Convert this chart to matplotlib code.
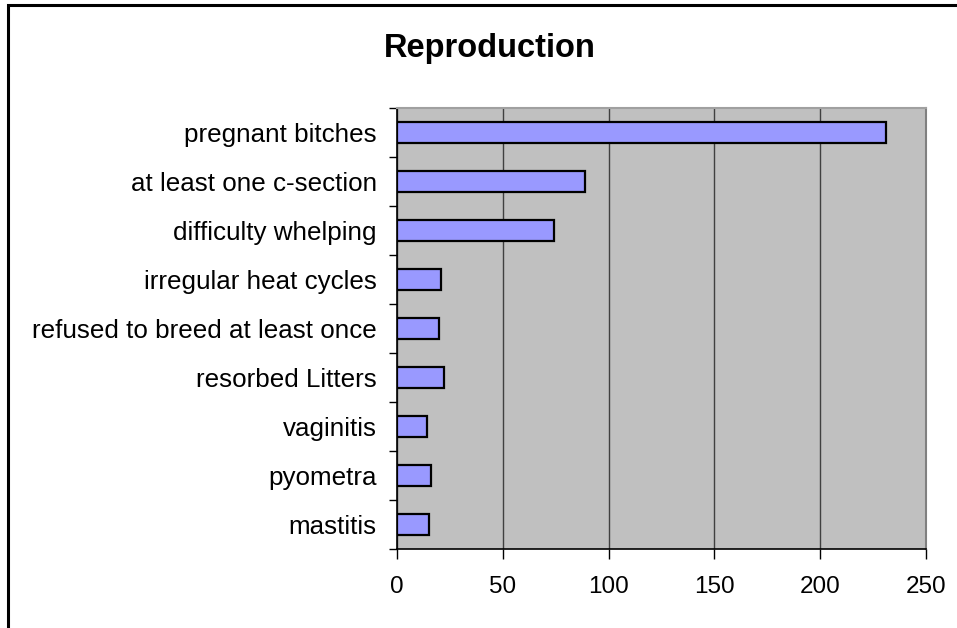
import matplotlib.pyplot as plt
from matplotlib.patches import Rectangle

plt.rcParams['font.family'] = ['Liberation Sans', 'DejaVu Sans']

kategorie = ["pregnant bitches", "at least one c-section", "difficulty whelping",
             "irregular heat cycles", "refused to breed at least once",
             "resorbed Litters", "vaginitis", "pyometra", "mastitis"]
wartosci = [231, 89, 74, 21, 20, 22, 14, 16, 15]
osie_x = [0, 50, 100, 150, 200, 250]

fig = plt.figure(figsize=(9.57, 6.28), dpi=100)
ax = fig.add_axes([397 / 957, 1 - 549 / 628, 529 / 957, 441 / 628])

# ramka wokol calego wykresu (wychodzi poza obraz z prawej i na dole)
fig.patches.append(Rectangle((8 / 957, -0.05), 1.1, 1 - 5 / 628 + 0.05,
                             transform=fig.transFigure, fill=False,
                             edgecolor='black', linewidth=2.2, clip_on=False))

ax.set_facecolor('#C0C0C0')
pozycje = range(len(kategorie))
ax.barh(pozycje, wartosci, height=0.41, color='#9999FF', edgecolor='black',
        linewidth=1.6, zorder=3)

ax.set_xlim(0, 250)
ax.set_ylim(len(kategorie) - 0.5, -0.5)
ax.set_xticks(osie_x)
ax.set_xticklabels([str(v) for v in osie_x], fontsize=17.5)
ax.set_yticks(list(pozycje))
ax.set_yticklabels(kategorie, fontsize=18.7)
ax.set_yticks([i - 0.5 for i in range(len(kategorie) + 1)], minor=True)
ax.tick_params(axis='y', which='major', length=0, pad=14.5)
ax.tick_params(axis='y', which='minor', length=6, width=1, direction='out')
ax.tick_params(axis='x', which='major', length=7, width=1, direction='out', pad=12.5)

ax.grid(True, axis='x', color='#404040', linewidth=1, zorder=1)
ax.set_axisbelow(True)

for s in ['left', 'bottom']:
    ax.spines[s].set_color('black')
    ax.spines[s].set_linewidth(1.2)
ax.spines['top'].set_color('#A0A0A0')
ax.spines['right'].set_color('#808080')
ax.spines['top'].set_linewidth(1.5)
ax.spines['right'].set_linewidth(1.5)

fig.text(490 / 957, 1 - 57 / 628, "Reproduction", ha='center', va='baseline',
         fontsize=23.5, fontweight='bold')

fig.savefig('out.png', dpi=100)
